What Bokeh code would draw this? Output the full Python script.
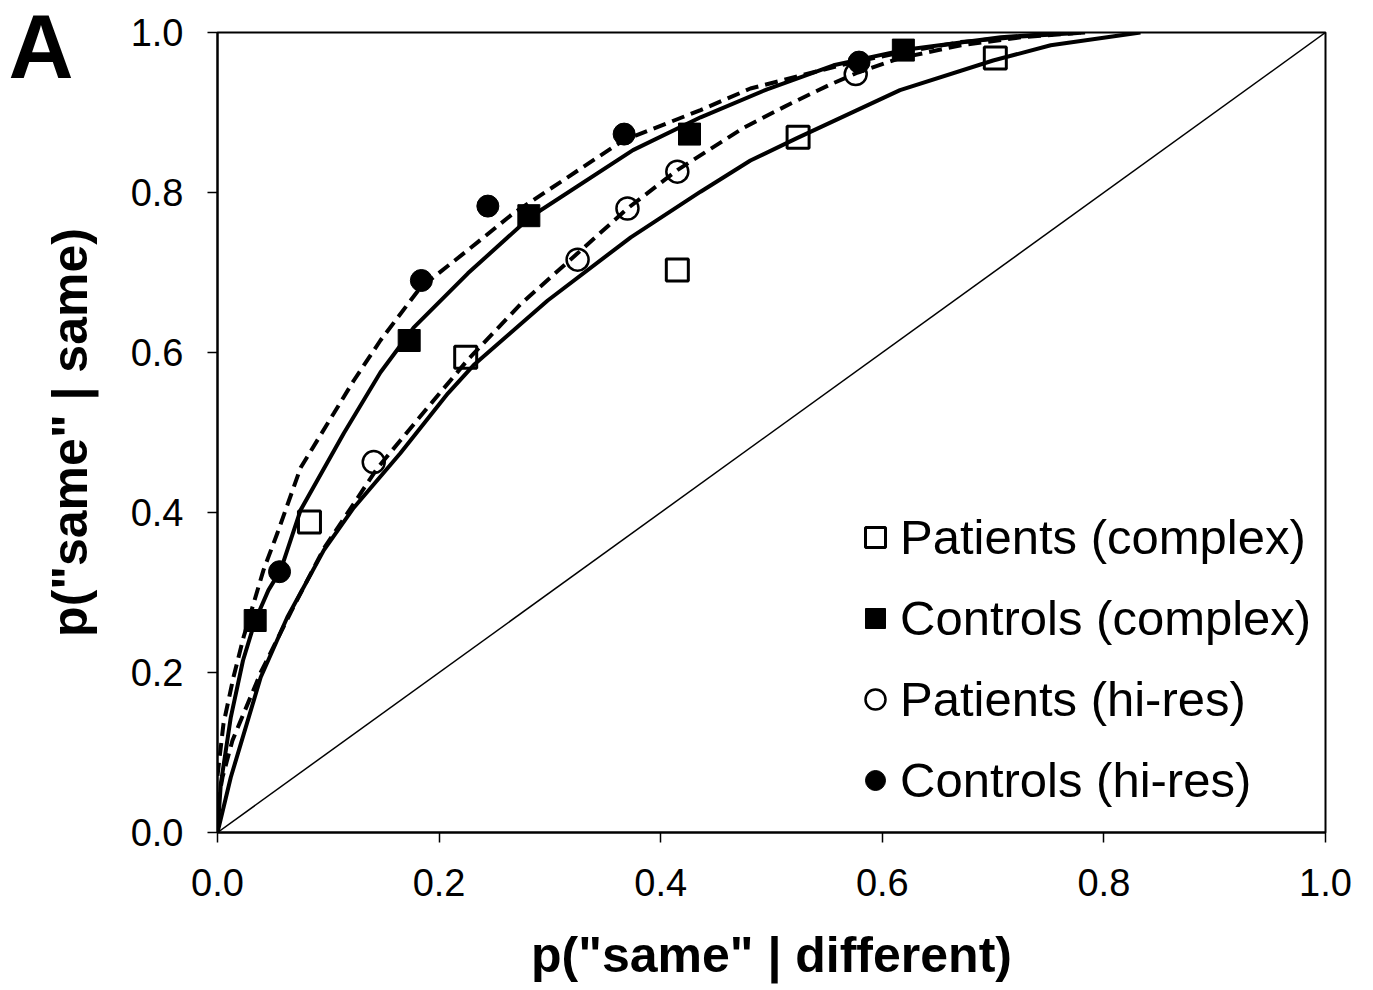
from bokeh.plotting import figure
from bokeh.models import FixedTicker, PrintfTickFormatter, Legend, LegendItem, Title
from bokeh.embed import file_html
from bokeh.resources import INLINE

# ---- observed points ----
pat_complex_x = [0.083, 0.224, 0.415, 0.524, 0.702]
pat_complex_y = [0.388, 0.594, 0.703, 0.869, 0.968]
con_complex_x = [0.034, 0.173, 0.281, 0.426, 0.619]
con_complex_y = [0.265, 0.615, 0.771, 0.873, 0.978]
pat_hires_x = [0.141, 0.325, 0.370, 0.415, 0.576]
pat_hires_y = [0.463, 0.716, 0.780, 0.826, 0.948]
con_hires_x = [0.056, 0.184, 0.244, 0.367, 0.579]
con_hires_y = [0.326, 0.690, 0.783, 0.873, 0.963]

# ---- fitted curves ----
fit_pat_complex_x = [0.000, 0.012, 0.039, 0.063, 0.096, 0.123, 0.165, 0.208, 0.231, 0.298,
                     0.373, 0.436, 0.481, 0.523, 0.616, 0.700, 0.752, 0.833]
fit_pat_complex_y = [0.000, 0.069, 0.194, 0.269, 0.353, 0.406, 0.474, 0.549, 0.584, 0.665,
                     0.744, 0.801, 0.840, 0.868, 0.928, 0.965, 0.984, 1.000]
fit_con_complex_x = [0.000, 0.003, 0.012, 0.023, 0.034, 0.046, 0.057, 0.075, 0.114, 0.147,
                     0.177, 0.226, 0.282, 0.375, 0.436, 0.496, 0.556, 0.619, 0.707, 0.770]
fit_con_complex_y = [0.000, 0.061, 0.144, 0.215, 0.265, 0.303, 0.328, 0.403, 0.499, 0.575,
                     0.631, 0.699, 0.769, 0.853, 0.894, 0.929, 0.959, 0.978, 0.994, 1.000]
fit_pat_hires_x = [0.000, 0.0045, 0.0135, 0.039, 0.066, 0.096, 0.123, 0.144, 0.165, 0.195,
                   0.226, 0.274, 0.325, 0.370, 0.415, 0.475, 0.517, 0.553, 0.578, 0.616,
                   0.671, 0.725, 0.783]
fit_pat_hires_y = [0.034, 0.069, 0.115, 0.200, 0.275, 0.355, 0.411, 0.455, 0.490, 0.540,
                   0.591, 0.661, 0.724, 0.780, 0.828, 0.881, 0.911, 0.935, 0.950, 0.968,
                   0.984, 0.994, 1.000]
fit_con_hires_x = [0.000, 0.0054, 0.0144, 0.0235, 0.0325, 0.0415, 0.054, 0.075, 0.105, 0.123,
                   0.147, 0.183, 0.226, 0.267, 0.316, 0.366, 0.436, 0.481, 0.526, 0.562,
                   0.616, 0.671, 0.725, 0.783]
fit_con_hires_y = [0.071, 0.136, 0.194, 0.244, 0.286, 0.328, 0.374, 0.456, 0.524, 0.565,
                   0.615, 0.681, 0.728, 0.774, 0.819, 0.865, 0.903, 0.930, 0.946, 0.959,
                   0.975, 0.988, 0.995, 1.000]

chance_x = [0.0, 1.0]
chance_y = [0.0, 1.0]

ticks = [0.0, 0.2, 0.4, 0.6, 0.8, 1.0]
legend_labels = ["Patients (complex)", "Controls (complex)", "Patients (hi-res)", "Controls (hi-res)"]
panel_letter = "A"

FONT = "Liberation Sans"

p = figure(width=1373, height=990, x_range=(0, 1), y_range=(0, 1),
           output_backend="svg", toolbar_location=None,
           min_border_left=217, min_border_right=48, min_border_top=32, min_border_bottom=158)
p.xgrid.visible = False
p.ygrid.visible = False
p.background_fill_color = "white"
p.border_fill_color = "white"
p.outline_line_color = "black"
p.outline_line_width = 2

for ax in (p.xaxis[0], p.yaxis[0]):
    ax.ticker = FixedTicker(ticks=ticks)
    ax.formatter = PrintfTickFormatter(format="%.1f")
    ax.minor_tick_line_color = None
    ax.major_tick_in = 0
    ax.major_tick_out = 10
    ax.major_tick_line_width = 1.5
    ax.axis_line_width = 2
    ax.axis_line_color = "black"
    ax.major_label_text_font = FONT
    ax.major_label_text_font_size = "38px"
    ax.major_label_text_color = "black"
    ax.axis_label_text_font = FONT
    ax.axis_label_text_font_style = "bold"
    ax.axis_label_text_font_size = "50px"
    ax.axis_label_text_color = "black"

p.xaxis.axis_label = 'p("same" | different)'
p.yaxis.axis_label = 'p("same" | same)'
p.xaxis.major_label_standoff = 26
p.yaxis.major_label_standoff = 24
p.xaxis.axis_label_standoff = 28
p.yaxis.axis_label_standoff = 30

# chance diagonal
p.line(chance_x, chance_y, line_color="black", line_width=1.5)

# markers (drawn first, curves on top)
r_pc = p.scatter(pat_complex_x, pat_complex_y, marker="square", size=22,
                 fill_color="white", line_color="black", line_width=3)
r_cc = p.scatter(con_complex_x, con_complex_y, marker="square", size=22,
                 fill_color="black", line_color="black", line_width=1)
r_ph = p.scatter(pat_hires_x, pat_hires_y, marker="circle", size=22,
                 fill_color="white", line_color="black", line_width=2.5)
r_ch = p.scatter(con_hires_x, con_hires_y, marker="circle", size=22,
                 fill_color="black", line_color="black", line_width=1)

# fitted curves
p.line(fit_pat_complex_x, fit_pat_complex_y, line_color="black", line_width=4)
p.line(fit_con_complex_x, fit_con_complex_y, line_color="black", line_width=4)
p.line(fit_pat_hires_x, fit_pat_hires_y, line_color="black", line_width=4, line_dash="13 7")
p.line(fit_con_hires_x, fit_con_hires_y, line_color="black", line_width=4, line_dash="13 7")

legend = Legend(items=[LegendItem(label=legend_labels[0], renderers=[r_pc]),
                       LegendItem(label=legend_labels[1], renderers=[r_cc]),
                       LegendItem(label=legend_labels[2], renderers=[r_ph]),
                       LegendItem(label=legend_labels[3], renderers=[r_ch])],
                location=(633, 22),
                label_text_font=FONT, label_text_font_size="49px", label_text_color="black",
                glyph_width=50, glyph_height=50, label_height=60, spacing=21,
                label_standoff=0, padding=0, margin=0,
                border_line_color=None, background_fill_alpha=0)
p.add_layout(legend, "center")

# panel letter as a title squeezed into the top border
letter = Title(text=panel_letter, align="left", vertical_align="bottom",
               text_font=FONT, text_font_style="bold", text_font_size="90px",
               text_color="black", standoff=-128, offset=-209)
p.add_layout(letter, "above")

open("out.html", "w").write(file_html(p, INLINE))
